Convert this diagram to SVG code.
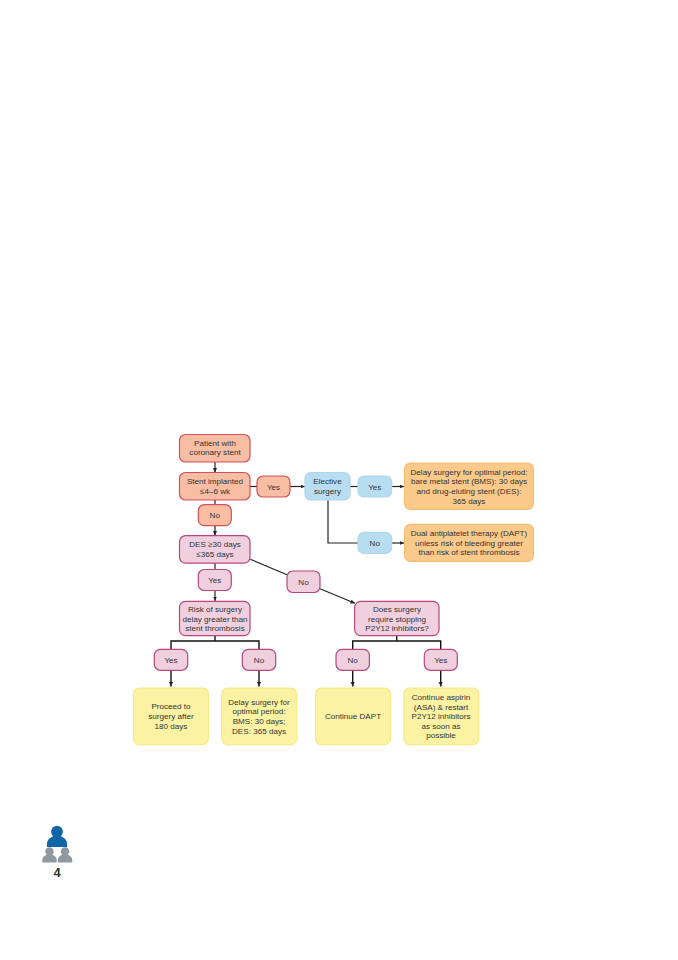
<svg xmlns="http://www.w3.org/2000/svg" width="678" height="960" viewBox="0 0 678 960">
<style>
text{font-family:"Liberation Sans",Arial,sans-serif;font-size:8.1px;fill:#333;text-anchor:middle}
rect{stroke-width:1.2}
.red{fill:#f8bda3;stroke:#d2515a}
.pink{fill:#f0d0df;stroke:#b9477f}
.blue{fill:#b8dcf0;stroke:#aed6ec}
.orange{fill:#fbc98a;stroke:#f6bd74}
.yellow{fill:#fbf3a3;stroke:#f5ea85}
.c{fill:none;stroke:#222;stroke-width:1.2}
.a{marker-end:url(#arrow)}
.f{fill:none;stroke:#111;stroke-width:1.4}
.p1{fill:#0f66a6}
.p2{fill:#8f989e}
</style>
<defs>
<marker id="arrow" markerUnits="userSpaceOnUse" markerWidth="6" markerHeight="5" refX="4.500" refY="2" orient="auto">
<path d="M0 0L4.500 2L0 4Z" fill="#222"/>
</marker>
<g id="person">
<circle cx="0" cy="-7" r="4.200"/>
<path d="M-7.200 4V1.500C-7.200 -1.500 -4.500 -3 -2.500 -4H2.500C4.500 -3 7.200 -1.500 7.200 1.500V4Z"/>
</g>
</defs>
<rect width="678" height="960" fill="#fff" stroke="none"/>
<g id="connectors">
<path class="c a" d="M215 462V472.500"/>
<path class="c" d="M250 486.500H257"/>
<path class="c a" d="M290 486.500H305"/>
<path class="c" d="M350 486.500H358"/>
<path class="c a" d="M391.700 486.500H404"/>
<path class="c" d="M328 500V543H358"/>
<path class="c a" d="M391.700 543H404"/>
<path class="c" d="M215 500V505"/>
<path class="c a" d="M215 525.700V535.500"/>
<path class="c" d="M215 563V569.500"/>
<path class="c a" d="M215 591V601"/>
<path class="c" d="M250.300 559.300L287 574.700"/>
<path class="c a" d="M320 588.700L355 603.300"/>
<path class="f" d="M215 635.700V641M171 649.300V641H259V649.300"/>
<path class="f a" d="M171 670.300V686.500"/>
<path class="f a" d="M259 670.300V686.500"/>
<path class="f" d="M396.700 635.700V641M352.700 649.300V641H440.700V649.300"/>
<path class="f a" d="M352.700 670.300V686.500"/>
<path class="f a" d="M440.700 670.300V686.500"/>
</g>
<g id="n-patient"><rect class="red" x="179.500" y="434.500" width="70.500" height="27.500" rx="6"/><text x="215" y="446">Patient with</text><text x="215" y="455">coronary stent</text></g>
<g id="n-stent"><rect class="red" x="179.500" y="472.500" width="70.500" height="27.500" rx="6"/><text x="215" y="484">Stent implanted</text><text x="215" y="494">≤4–6 wk</text></g>
<g id="n-yes1"><rect class="red" x="257" y="476" width="33" height="21" rx="6"/><text x="273.500" y="489.500">Yes</text></g>
<g id="n-elective"><rect class="blue" x="305" y="472.500" width="45" height="27.500" rx="6"/><text x="327.500" y="484">Elective</text><text x="327.500" y="494">surgery</text></g>
<g id="n-yes2"><rect class="blue" x="358" y="476" width="33.700" height="21" rx="6"/><text x="374.800" y="489.500">Yes</text></g>
<g id="n-delay1"><rect class="orange" x="404.500" y="463" width="129" height="46.300" rx="6"/><text x="469" y="474.500">Delay surgery for optimal period:</text><text x="469" y="484">bare metal stent (BMS): 30 days</text><text x="469" y="494">and drug-eluting stent (DES):</text><text x="469" y="503.500">365 days</text></g>
<g id="n-no2"><rect class="blue" x="358" y="532.300" width="33.700" height="21" rx="6"/><text x="374.800" y="546">No</text></g>
<g id="n-dapt"><rect class="orange" x="404.500" y="524.300" width="129" height="37" rx="6"/><text x="469" y="536">Dual antiplatelet therapy (DAPT)</text><text x="469" y="545.500">unless risk of bleeding greater</text><text x="469" y="555">than risk of stent thrombosis</text></g>
<g id="n-no1"><rect class="red" x="198.300" y="504.700" width="33" height="21" rx="6"/><text x="214.800" y="518">No</text></g>
<g id="n-des"><rect class="pink" x="179.500" y="535.700" width="70.500" height="27.500" rx="6"/><text x="215" y="547">DES ≥30 days</text><text x="215" y="557">≤365 days</text></g>
<g id="n-yes3"><rect class="pink" x="198.300" y="569.500" width="33" height="21" rx="6"/><text x="214.800" y="583">Yes</text></g>
<g id="n-no3"><rect class="pink" x="287" y="571" width="33" height="21.500" rx="6"/><text x="303.500" y="584.500">No</text></g>
<g id="n-risk"><rect class="pink" x="179.500" y="601.300" width="70.500" height="34.400" rx="6"/><text x="215" y="612">Risk of surgery</text><text x="215" y="621.500">delay greater than</text><text x="215" y="630.500">stent thrombosis</text></g>
<g id="n-p2y12"><rect class="pink" x="354.700" y="601.300" width="84.300" height="34.400" rx="6"/><text x="397" y="612">Does surgery</text><text x="397" y="621.500">require stopping</text><text x="397" y="630.500">P2Y12 inhibitors?</text></g>
<g id="n-yes4"><rect class="pink" x="154.300" y="649.300" width="33.400" height="21" rx="6"/><text x="171" y="662.800">Yes</text></g>
<g id="n-no4"><rect class="pink" x="242.300" y="649.300" width="33.400" height="21" rx="6"/><text x="259" y="662.800">No</text></g>
<g id="n-no5"><rect class="pink" x="336" y="649.300" width="33.400" height="21" rx="6"/><text x="352.700" y="662.800">No</text></g>
<g id="n-yes5"><rect class="pink" x="424.300" y="649.300" width="33" height="21" rx="6"/><text x="440.800" y="662.800">Yes</text></g>
<g id="n-proceed"><rect class="yellow" x="133.500" y="688" width="75" height="56.700" rx="6"/><text x="171" y="709">Proceed to</text><text x="171" y="719">surgery after</text><text x="171" y="728.500">180 days</text></g>
<g id="n-delay2"><rect class="yellow" x="221.700" y="688" width="75" height="56.700" rx="6"/><text x="259" y="704.500">Delay surgery for</text><text x="259" y="714">optimal period:</text><text x="259" y="724">BMS: 30 days;</text><text x="259" y="733.500">DES: 365 days</text></g>
<g id="n-continue"><rect class="yellow" x="315.500" y="688" width="75" height="56.700" rx="6"/><text x="353" y="719">Continue DAPT</text></g>
<g id="n-aspirin"><rect class="yellow" x="403.800" y="688" width="75" height="56.700" rx="6"/><text x="441" y="700">Continue aspirin</text><text x="441" y="709.500">(ASA) &amp; restart</text><text x="441" y="719">P2Y12 inhibitors</text><text x="441" y="728.500">as soon as</text><text x="441" y="738">possible</text></g>
<g id="icon">
<use href="#person" class="p1" transform="translate(57 841.500) scale(1.4)"/>
<use href="#person" class="p2" transform="translate(49.500 858.500)"/>
<use href="#person" class="p2" transform="translate(65 858.500)"/>
<text x="57" y="877" style="font-size:13px;font-weight:bold;fill:#333">4</text>
</g>
</svg>
